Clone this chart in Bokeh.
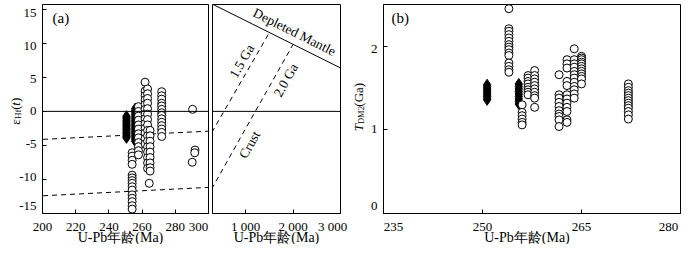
import math
from bokeh.plotting import figure
from bokeh.layouts import row, column
from bokeh.models import Span, Label, FixedTicker, Range1d
from bokeh.embed import file_html
from bokeh.resources import INLINE

# ---------------- data ----------------
# Panel (a): epsilon Hf(t) versus U-Pb age (Ma)
a_dia1_age = 250.6
a_dia1_eps = [-0.7, -0.9, -1.1, -1.3, -1.5, -1.7, -1.9, -2.1, -2.3, -2.5, -2.7, -2.9, -3.1, -3.3, -3.5, -3.7, -3.9]
a_dia2_age = 255.8
a_dia2_eps = [0.4, 0.1, -0.2, -0.5, -0.8, -1.1, -1.4, -1.7, -2.0, -2.3, -2.6, -2.9, -3.2, -3.5, -3.8, -4.1, -4.4]

a_g254_age = 254.0
a_g254_eps = [-6.1, -6.6, -7.2, -7.8, -9.4, -9.8, -10.2, -10.6, -11.1, -11.6, -12.3, -12.8, -13.3, -13.9, -14.4]
a_g258_age = 257.8
a_g258_eps = [0.7, 0.0, -0.7, -1.3, -2.0, -2.6, -3.3, -3.9, -4.6, -5.2, -5.8, -6.4]
a_g262_age = 261.8
a_g262_eps = [4.3, 3.0, 2.3, 1.7, 1.0, 0.3, -0.4, -1.1, -1.8, -2.5, -3.2, -4.0, -4.8]
a_g263_age = 263.3
a_g263_eps = [3.3, 2.6, 1.9, 1.2, 0.4, -0.4, -1.2, -2.0, -2.8, -3.6, -4.4, -5.2, -6.0, -6.8, -7.6, -8.4]
a_g265_age = 264.8
a_g265_eps = [-2.8, -3.6, -4.4, -5.2, -6.0, -6.8, -7.6, -8.3, -8.8]
a_g272_age = 271.8
a_g272_eps = [2.9, 2.3, 1.8, 1.2, 0.8, 0.3, -0.2, -0.6, -1.1, -1.6, -2.1, -2.6, -3.1, -3.7]
a_misc_age = [264.3, 290.4, 291.9, 291.7, 290.2]
a_misc_eps = [-10.6, 0.3, -5.7, -6.1, -7.5]

# reference evolution lines (age Ma, epsilon Hf)
dm_age = [0, 3000]
dm_eps = [16.84, 6.4]
crust15_age = [0, 1500]
crust15_eps = [-6.55, 11.62]
crust20_age = [0, 2000]
crust20_eps = [-14.92, 9.88]

# Panel (b): T_DM2 (Ga) versus U-Pb age (Ma)
b_dia1_age = 250.7
b_dia1_t = [1.36, 1.38, 1.40, 1.42, 1.44, 1.46, 1.48, 1.50, 1.52, 1.54]
b_dia2_age = 255.5
b_dia2_t = [1.55, 1.52, 1.49, 1.46, 1.43, 1.40, 1.37, 1.34, 1.31]
b_g254_age = 254.0
b_g254_t = [2.45, 2.21, 2.18, 2.14, 2.10, 2.06, 2.02, 1.99, 1.96, 1.92, 1.89, 1.80, 1.76, 1.72, 1.69]
b_g256_age = 256.0
b_g256_t = [1.30, 1.21, 1.17, 1.13, 1.09, 1.06]
b_g257_age = 256.9
b_g257_t = [1.65, 1.62, 1.58, 1.55, 1.51, 1.48, 1.45, 1.42]
b_g258_age = 257.9
b_g258_t = [1.71, 1.65, 1.61, 1.57, 1.53, 1.49, 1.45, 1.41, 1.38, 1.27]
b_g262_age = 261.6
b_g262_t = [1.66, 1.42, 1.38, 1.33, 1.28, 1.23, 1.19, 1.16, 1.12, 1.04]
b_g263_age = 262.8
b_g263_t = [1.84, 1.79, 1.74, 1.58, 1.53, 1.42, 1.37, 1.32, 1.27, 1.22, 1.12, 1.09]
b_g264_age = 263.9
b_g264_t = [1.97, 1.84, 1.79, 1.75, 1.70, 1.66, 1.62, 1.57, 1.52, 1.48, 1.43, 1.38]
b_g265_age = 265.0
b_g265_t = [1.88, 1.86, 1.84, 1.81, 1.79, 1.76, 1.73, 1.70, 1.67, 1.64, 1.61, 1.55]
b_g272_age = 272.1
b_g272_t = [1.55, 1.51, 1.47, 1.44, 1.41, 1.38, 1.35, 1.32, 1.29, 1.26, 1.22, 1.18, 1.13]

a_xticks = [200, 220, 240, 260, 280, 300]
a_xlabels = ["200", "220", "240", "260", "280", "300"]
a_yticks = [-15, -10, -5, 0, 5, 10, 15]
a_ylabels = ["-15", "-10", "-5", "0", "5", "10", "15"]
a2_xticks = [1000, 2000, 3000]
a2_xlabels = ["1 000", "2 000", "3 000"]
b_xticks = [235, 250, 265, 280]
b_xlabels = ["235", "250", "265", "280"]
b_yticks = [0, 1, 2]
b_ylabels = ["0", "1", "2"]
x_title = "U-Pb年龄(Ma)"

# ---------------- layout ----------------
SERIF = "Liberation Serif"
TOP = 4
FRAME_H = 209
BOT_T = 4
HT = TOP + FRAME_H + BOT_T        # plot row height
HB = 244 - HT                      # x-label strip height

YA_W = 41                          # strip with y title + y tick labels of (a)
A_LEFT, A_W, A_RIGHT = 1, 166, 2
A2_LEFT, A2_W, A2_RIGHT = 2, 128, 2
YB_W = 40                          # strip with y title + y tick labels of (b)
B_LEFT, B_W, B_RIGHT = 1, 297, 4
SHIFT = 20                         # bottom strip of (a2) borrows width from that of (b)

a_xr = Range1d(200, 300)
a_yr = Range1d(-15.05, 15.75)
a2_xr = Range1d(300, 3000)
b_xr = Range1d(235, 280)
b_yr = Range1d(0, 2.5)


def make_fig(left, w, right, xr, yr):
    p = figure(width=left + w + right, height=HT, x_range=xr, y_range=yr,
               output_backend="svg", toolbar_location=None,
               min_border_left=left, min_border_right=right,
               min_border_top=TOP, min_border_bottom=BOT_T)
    p.outline_line_color = "black"
    p.outline_line_alpha = 1.0
    p.outline_line_width = 1
    p.grid.visible = False
    p.background_fill_color = "white"
    p.border_fill_color = "white"
    for ax in p.axis:
        ax.major_tick_in = 4
        ax.major_tick_out = 0
        ax.minor_tick_line_color = None
        ax.axis_line_color = "black"
        ax.major_tick_line_color = "black"
        # tick labels are written in the strips beside / below each panel
        ax.major_label_text_font_size = "0px"
        ax.major_label_standoff = 0
    return p


def blank_strip(width, height, xr, yr):
    s = figure(width=width, height=height, x_range=xr, y_range=yr,
               x_axis_type=None, y_axis_type=None, output_backend="svg", toolbar_location=None,
               min_border_left=0, min_border_right=0, min_border_top=0, min_border_bottom=0)
    s.outline_line_color = None
    s.grid.visible = False
    s.background_fill_color = "white"
    s.border_fill_color = "white"
    return s


def lab(p, x, y, text, size="13px", style="normal", align="left", baseline="alphabetic",
        angle=0.0, xo=0):
    p.add_layout(Label(x=x, y=y, text=text, x_offset=xo,
                       text_font=SERIF, text_font_size=size, text_font_style=style,
                       text_align=align, text_baseline=baseline, text_color="black",
                       angle=angle, angle_units="rad"))


def x_strip(xr, left, w, right, ticks, labels, shifts, title_shift):
    # strip below a panel, same horizontal scale as the panel's frame
    s = w / (xr.end - xr.start)
    st = blank_strip(left + w + right, HB, Range1d(xr.start - left / s, xr.end + right / s),
                     Range1d(0, HB))
    for t, txt in zip(ticks, labels):
        lab(st, t, HB - 9, txt, align="center", baseline="middle", xo=shifts.get(t, 0))
    lab(st, (xr.start + xr.end) / 2, 7.5, x_title, size="14px", align="center",
        baseline="middle", xo=title_shift)
    return st


def y_strip(width, yr, ticks, labels, shifts):
    # strip left of a panel, same vertical scale as the panel's frame
    ppu = FRAME_H / (yr.end - yr.start)
    st = blank_strip(width, HT, Range1d(0, width),
                     Range1d(yr.start - BOT_T / ppu, yr.end + TOP / ppu))
    for t, txt in zip(ticks, labels):
        lab(st, width - 5, t + shifts.get(t, 0) / ppu, txt, align="right", baseline="middle")
    return st, ppu


def rotated_title(st, ppu, x, centre, pieces):
    # pieces: (text, font size, style, x shift px, advance px); stacked bottom-to-top
    total = sum(pc[4] for pc in pieces)
    y = centre - total / 2 / ppu
    for text, size, style, dx, adv in pieces:
        lab(st, x + dx, y, text, size=size, style=style, angle=math.pi / 2)
        y += adv / ppu


def open_pts(p, age, vals):
    p.scatter([age] * len(vals), vals, marker="circle", size=8, fill_color="white",
              line_color="black", line_width=1)


def dia_pts(p, age, vals):
    p.scatter([age] * len(vals), vals, marker="diamond", size=11, fill_color="black",
              line_color="black", line_width=1)


def ref_lines(p):
    p.add_layout(Span(location=0, dimension="width", line_color="black", line_width=1))
    p.line(dm_age, dm_eps, line_color="black", line_width=1)
    p.line(crust15_age, crust15_eps, line_color="black", line_width=1, line_dash="5 4")
    p.line(crust20_age, crust20_eps, line_color="black", line_width=1, line_dash="5 4")


# ---------- strip: y title + tick labels of (a) ----------
ya, a_ppu = y_strip(YA_W, a_yr, a_yticks, a_ylabels, {-15: 3})
rotated_title(ya, a_ppu, 15, 0.0, [("ε", "13px", "normal", 0, 5.9),
                                   ("Hf", "9px", "normal", 2.5, 9.5),
                                   ("(", "13px", "normal", 0, 4.3),
                                   ("t", "13px", "italic", 0, 3.8),
                                   (")", "13px", "normal", 0, 4.3)])

# ---------- panel (a) ----------
pa = make_fig(A_LEFT, A_W, A_RIGHT, a_xr, a_yr)
pa.xaxis.ticker = FixedTicker(ticks=a_xticks)
pa.xaxis.major_label_overrides = {t: "" for t in a_xticks}
pa.yaxis.ticker = FixedTicker(ticks=a_yticks)
pa.yaxis.major_label_overrides = {t: "" for t in a_yticks}
ref_lines(pa)
dia_pts(pa, a_dia1_age, a_dia1_eps)
dia_pts(pa, a_dia2_age, a_dia2_eps)
for age, vals in [(a_g254_age, a_g254_eps), (a_g258_age, a_g258_eps), (a_g262_age, a_g262_eps),
                  (a_g263_age, a_g263_eps), (a_g265_age, a_g265_eps), (a_g272_age, a_g272_eps)]:
    open_pts(pa, age, vals)
pa.scatter(a_misc_age, a_misc_eps, marker="circle", size=8, fill_color="white",
           line_color="black", line_width=1)
lab(pa, 200, 13.8, "(a)", size="15px", baseline="middle", xo=10)
sa = x_strip(a_xr, YA_W + A_LEFT, A_W, A_RIGHT, a_xticks, a_xlabels, {300: -10}, -5)

# ---------- panel (a) continued: 300 - 3000 Ma ----------
pa2 = make_fig(A2_LEFT, A2_W, A2_RIGHT, a2_xr, a_yr)
pa2.yaxis.visible = False
pa2.xaxis.ticker = FixedTicker(ticks=a2_xticks)
pa2.xaxis.major_label_overrides = {t: "" for t in a2_xticks}
ref_lines(pa2)
ppx = A2_W / (a2_xr.end - a2_xr.start)
ang_dm = math.atan((dm_eps[1] - dm_eps[0]) / (dm_age[1] - dm_age[0]) * a_ppu / ppx)
ang_15 = math.atan((crust15_eps[1] - crust15_eps[0]) / (crust15_age[1] - crust15_age[0]) * a_ppu / ppx)
ang_20 = math.atan((crust20_eps[1] - crust20_eps[0]) / (crust20_age[1] - crust20_age[0]) * a_ppu / ppx)
lab(pa2, 2031, 11.7, "Depleted Mantle", size="13.5px", align="center", baseline="middle", angle=ang_dm)
lab(pa2, 918, 7.4, "1.5 Ga", size="13.5px", align="center", baseline="middle", angle=ang_15)
lab(pa2, 1846, 4.6, "2.0 Ga", size="13.5px", align="center", baseline="middle", angle=ang_20)
lab(pa2, 1083, -4.9, "Crust", size="13.5px", align="center", baseline="middle", angle=ang_20)
sa2 = x_strip(a2_xr, A2_LEFT, A2_W, A2_RIGHT + SHIFT, a2_xticks, a2_xlabels, {3000: -8}, 0)

# ---------- strip: y title + tick labels of (b) ----------
yb, b_ppu = y_strip(YB_W, b_yr, b_yticks, b_ylabels, {0: 4})
rotated_title(yb, b_ppu, 16, 1.268, [("T", "13px", "italic", 0, 7.6),
                                     ("DM2", "8.5px", "normal", 2.5, 18.0),
                                     ("(Ga)", "13px", "normal", 0, 23.8)])

# ---------- panel (b) ----------
pb = make_fig(B_LEFT, B_W, B_RIGHT, b_xr, b_yr)
pb.xaxis.ticker = FixedTicker(ticks=b_xticks)
pb.xaxis.major_label_overrides = {t: "" for t in b_xticks}
pb.yaxis.ticker = FixedTicker(ticks=b_yticks)
pb.yaxis.major_label_overrides = {t: "" for t in b_yticks}
dia_pts(pb, b_dia1_age, b_dia1_t)
dia_pts(pb, b_dia2_age, b_dia2_t)
for age, vals in [(b_g254_age, b_g254_t), (b_g256_age, b_g256_t), (b_g257_age, b_g257_t),
                  (b_g258_age, b_g258_t), (b_g262_age, b_g262_t), (b_g263_age, b_g263_t),
                  (b_g264_age, b_g264_t), (b_g265_age, b_g265_t), (b_g272_age, b_g272_t)]:
    open_pts(pb, age, vals)
lab(pb, 235, 2.34, "(b)", size="15px", baseline="middle", xo=8)
sb = x_strip(b_xr, YB_W + B_LEFT - SHIFT, B_W, B_RIGHT, b_xticks, b_xlabels, {235: 10, 280: -12}, -5)

layout = column(row(ya, pa, pa2, yb, pb), row(sa, sa2, sb))
open("out.html", "w").write(file_html(layout, INLINE))
